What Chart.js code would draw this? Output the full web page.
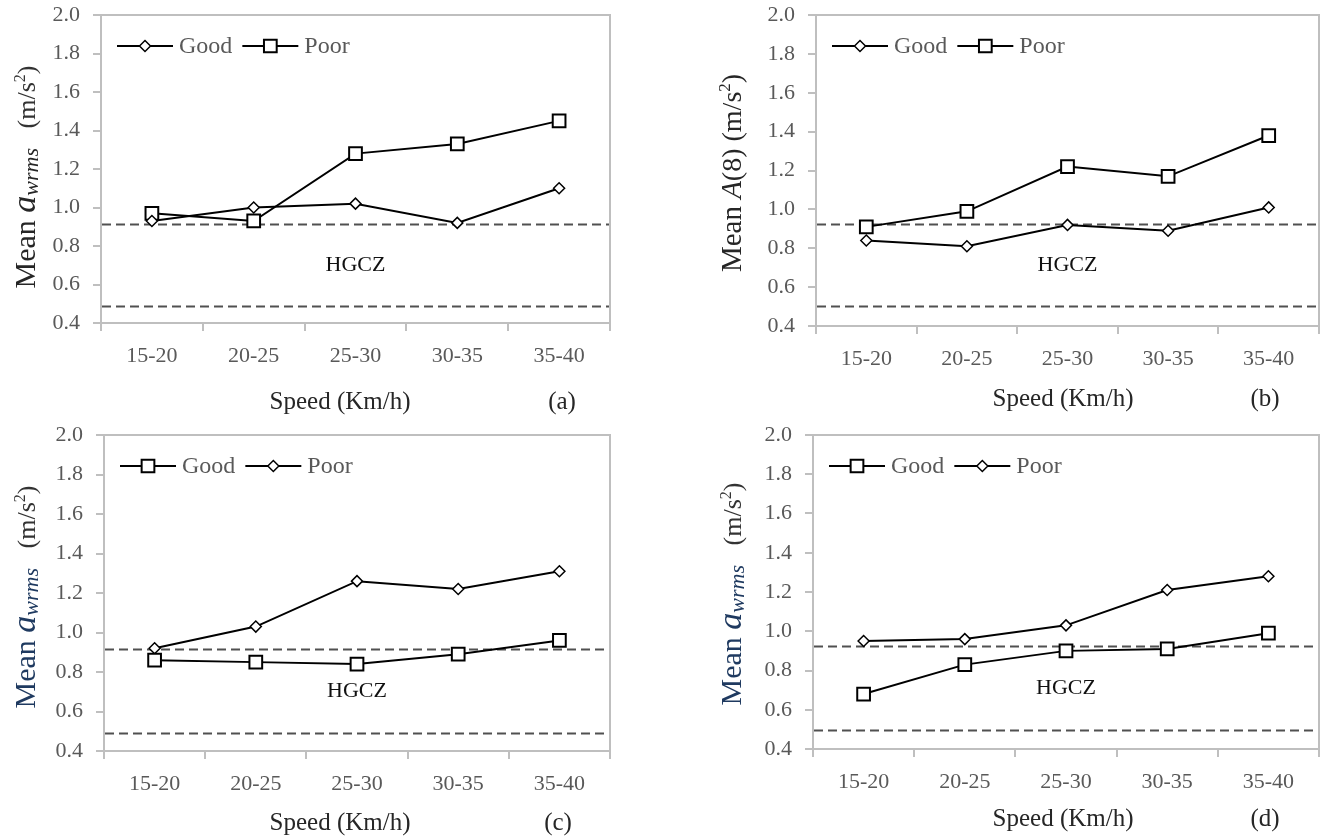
<!DOCTYPE html>
<html>
<head>
<meta charset="utf-8">
<title>Mean vibration vs speed</title>
<script src="https://cdn.jsdelivr.net/npm/chart.js@4.4.1/dist/chart.umd.min.js"></script>
<style>
  body { margin: 0; background: #fff; width: 1330px; height: 840px; position: relative; overflow: hidden; }
  .panel { position: absolute; width: 665px; height: 420px; }
</style>
</head>
<body>
<div class="panel" style="left:0;top:0"><canvas id="chartA" width="665" height="420"></canvas></div>
<div class="panel" style="left:665px;top:0"><canvas id="chartB" width="665" height="420"></canvas></div>
<div class="panel" style="left:0;top:420px"><canvas id="chartC" width="665" height="420"></canvas></div>
<div class="panel" style="left:665px;top:420px"><canvas id="chartD" width="665" height="420"></canvas></div>
<script>
// Data
const speedBands = ["15-20", "20-25", "25-30", "30-35", "35-40"];
const yMin = 0.4;
const yMax = 2.0;
const yStep = 0.2;

// (a) mean a_wrms
const awrmsGoodA = [0.93, 1.00, 1.02, 0.92, 1.10];
const awrmsPoorA = [0.97, 0.93, 1.28, 1.33, 1.45];
const hgczA = [0.49, 0.915];

// (b) mean A(8)
const a8GoodB = [0.84, 0.81, 0.92, 0.89, 1.01];
const a8PoorB = [0.91, 0.99, 1.22, 1.17, 1.38];
const hgczB = [0.505, 0.925];

// (c) mean a_wrms
const awrmsGoodC = [0.86, 0.85, 0.84, 0.89, 0.96];
const awrmsPoorC = [0.92, 1.03, 1.26, 1.22, 1.31];
const hgczC = [0.49, 0.915];

// (d) mean a_wrms
const awrmsGoodD = [0.68, 0.83, 0.90, 0.91, 0.99];
const awrmsPoorD = [0.95, 0.96, 1.03, 1.21, 1.28];
const hgczD = [0.495, 0.925];

const SERIF = '"Liberation Serif", "Times New Roman", serif';
const AXIS_GRAY = "#bfbfbf";
const TICK_GRAY = "#595959";

Chart.defaults.font.family = SERIF;
Chart.defaults.animation = false;

function seriesStyle(label, data, marker) {
  const isSquare = marker === "rect";
  return {
    label: label,
    data: data,
    borderColor: "#000",
    borderWidth: 2,
    pointStyle: marker,
    pointRadius: isSquare ? 9 : 5.5,
    pointBorderWidth: isSquare ? 2 : 1.5,
    pointBackgroundColor: "#fff",
    pointBorderColor: "#000",
    tension: 0,
    fill: false,
  };
}

function drawRichVertical(ctx, pieces, cx, cy) {
  ctx.save();
  ctx.translate(cx, cy);
  ctx.rotate(-Math.PI / 2);
  ctx.textBaseline = "alphabetic";
  ctx.textAlign = "left";
  let total = 0;
  pieces.forEach((p) => {
    ctx.font = p.font;
    p.w = ctx.measureText(p.text).width;
    total += p.w;
  });
  let x = -total / 2;
  pieces.forEach((p) => {
    ctx.font = p.font;
    ctx.fillStyle = p.color;
    ctx.fillText(p.text, x, 10 + (p.dy || 0));
    x += p.w;
  });
  ctx.restore();
}

// Frame, HGCZ band, legend, axis titles and panel letter
const panelDecor = {
  id: "panelDecor",
  beforeDatasetsDraw(chart, args, opts) {
    const { ctx, chartArea } = chart;
    const y = chart.scales.y;
    ctx.save();
    ctx.strokeStyle = "#505050";
    ctx.lineWidth = 1.8;
    ctx.setLineDash([9, 5]);
    opts.hgcz.forEach((v) => {
      const py = Math.round(y.getPixelForValue(v)) + 0.5;
      ctx.beginPath();
      ctx.moveTo(chartArea.left + 1, py);
      ctx.lineTo(chartArea.right - 1, py);
      ctx.stroke();
    });
    ctx.setLineDash([]);
    ctx.fillStyle = "#111";
    ctx.font = "22px " + SERIF;
    ctx.textAlign = "center";
    ctx.textBaseline = "middle";
    const mid = (opts.hgcz[0] + opts.hgcz[1]) / 2;
    ctx.fillText("HGCZ", (chartArea.left + chartArea.right) / 2, y.getPixelForValue(mid));
    ctx.restore();
  },
  afterDraw(chart, args, opts) {
    const { ctx, chartArea } = chart;
    ctx.save();
    // top and right frame
    ctx.strokeStyle = AXIS_GRAY;
    ctx.lineWidth = 2;
    ctx.beginPath();
    ctx.moveTo(chartArea.left, chartArea.top);
    ctx.lineTo(chartArea.right, chartArea.top);
    ctx.lineTo(chartArea.right, chartArea.bottom);
    ctx.stroke();

    // legend: line with marker, then label
    let lx = chartArea.left + 16;
    const ly = chartArea.top + 31;
    ctx.font = "24px " + SERIF;
    ctx.textBaseline = "middle";
    ctx.textAlign = "left";
    chart.data.datasets.forEach((ds) => {
      ctx.strokeStyle = "#000";
      ctx.lineWidth = 2;
      ctx.beginPath();
      ctx.moveTo(lx, ly);
      ctx.lineTo(lx + 56, ly);
      ctx.stroke();
      ctx.fillStyle = "#fff";
      ctx.lineWidth = ds.pointBorderWidth;
      ctx.beginPath();
      if (ds.pointStyle === "rect") {
        const h = ds.pointRadius * Math.SQRT1_2;
        ctx.rect(lx + 28 - h, ly - h, 2 * h, 2 * h);
      } else {
        const r = ds.pointRadius;
        ctx.moveTo(lx + 28 - r, ly);
        ctx.lineTo(lx + 28, ly - r);
        ctx.lineTo(lx + 28 + r, ly);
        ctx.lineTo(lx + 28, ly + r);
        ctx.closePath();
      }
      ctx.fill();
      ctx.stroke();
      ctx.fillStyle = TICK_GRAY;
      ctx.fillText(ds.label, lx + 62, ly + 1);
      lx += 62 + ctx.measureText(ds.label).width + 10;
    });

    // x title and panel letter
    ctx.fillStyle = "#262626";
    ctx.font = "25px " + SERIF;
    ctx.textAlign = "center";
    ctx.textBaseline = "middle";
    const ty = chartArea.bottom + opts.xTitleGap;
    ctx.fillText("Speed (Km/h)", opts.xTitleX, ty);
    ctx.fillText(opts.letter, opts.letterX, ty);

    // y title
    drawRichVertical(ctx, opts.yTitle, opts.yTitleX, opts.yTitleY);
    ctx.restore();
  },
};

function awrmsTitle(accent) {
  return [
    { text: "Mean ", font: "30px " + SERIF, color: accent },
    { text: "a", font: "italic 34px " + SERIF, color: accent },
    { text: "wrms", font: "italic 22px " + SERIF, color: accent, dy: 3 },
    { text: "   (m/s", font: "26px " + SERIF, color: "#333" },
    { text: "2", font: "16px " + SERIF, color: "#333", dy: -10 },
    { text: ")", font: "26px " + SERIF, color: "#333" },
  ];
}

const a8Title = [
  { text: "Mean ", font: "29px " + SERIF, color: "#262626" },
  { text: "A", font: "italic 29px " + SERIF, color: "#262626" },
  { text: "(8) (m/s", font: "28px " + SERIF, color: "#262626" },
  { text: "2", font: "17px " + SERIF, color: "#262626", dy: -11 },
  { text: ")", font: "28px " + SERIF, color: "#262626" },
];

function buildChart(id, goodData, goodMarker, poorData, poorMarker, box, decor) {
  const ctx = document.getElementById(id).getContext("2d");
  return new Chart(ctx, {
    type: "line",
    data: {
      labels: speedBands,
      datasets: [
        seriesStyle("Good", goodData, goodMarker),
        seriesStyle("Poor", poorData, poorMarker),
      ],
    },
    options: {
      responsive: false,
      layout: { padding: { top: box.top, right: box.right, left: 0, bottom: 0 } },
      plugins: {
        legend: { display: false },
        tooltip: { enabled: false },
        panelDecor: decor,
      },
      scales: {
        x: {
          type: "category",
          offset: true,
          grid: { offset: true, drawOnChartArea: false, drawTicks: true, tickLength: 8, color: AXIS_GRAY, lineWidth: 2 },
          border: { color: AXIS_GRAY, width: 2 },
          ticks: { color: TICK_GRAY, font: { size: 22 }, padding: 12, maxRotation: 0 },
          afterFit: (s) => { s.height = box.xHeight; },
        },
        y: {
          min: yMin,
          max: yMax,
          grid: { drawOnChartArea: false, drawTicks: true, tickLength: 8, color: AXIS_GRAY, lineWidth: 2 },
          border: { color: AXIS_GRAY, width: 2 },
          ticks: {
            stepSize: yStep,
            color: TICK_GRAY,
            font: { size: 22 },
            padding: 13,
            callback: (v) => Number(v).toFixed(1),
          },
          afterFit: (s) => {
            s.width = box.yWidth;
            s.paddingTop = 0;
            s.paddingBottom = 0;
          },
        },
      },
    },
    plugins: [panelDecor],
  });
}

buildChart("chartA", awrmsGoodA, "rectRot", awrmsPoorA, "rect",
  { top: 15, right: 55, xHeight: 97, yWidth: 101 },
  { hgcz: hgczA, letter: "(a)", xTitleX: 340, letterX: 562, xTitleGap: 79,
    yTitle: awrmsTitle("#262626"), yTitleX: 25, yTitleY: 177 });

buildChart("chartB", a8GoodB, "rectRot", a8PoorB, "rect",
  { top: 15, right: 8, xHeight: 94, yWidth: 151 },
  { hgcz: hgczB, letter: "(b)", xTitleX: 398, letterX: 600, xTitleGap: 73,
    yTitle: a8Title, yTitleX: 66, yTitleY: 173 });

buildChart("chartC", awrmsGoodC, "rect", awrmsPoorC, "rectRot",
  { top: 15, right: 55, xHeight: 89, yWidth: 104 },
  { hgcz: hgczC, letter: "(c)", xTitleX: 340, letterX: 558, xTitleGap: 72,
    yTitle: awrmsTitle("#1f3a60"), yTitleX: 25, yTitleY: 177 });

buildChart("chartD", awrmsGoodD, "rect", awrmsPoorD, "rectRot",
  { top: 15, right: 8, xHeight: 91, yWidth: 148 },
  { hgcz: hgczD, letter: "(d)", xTitleX: 398, letterX: 600, xTitleGap: 70,
    yTitle: awrmsTitle("#1f3a60"), yTitleX: 66, yTitleY: 174 });
</script>
</body>
</html>
